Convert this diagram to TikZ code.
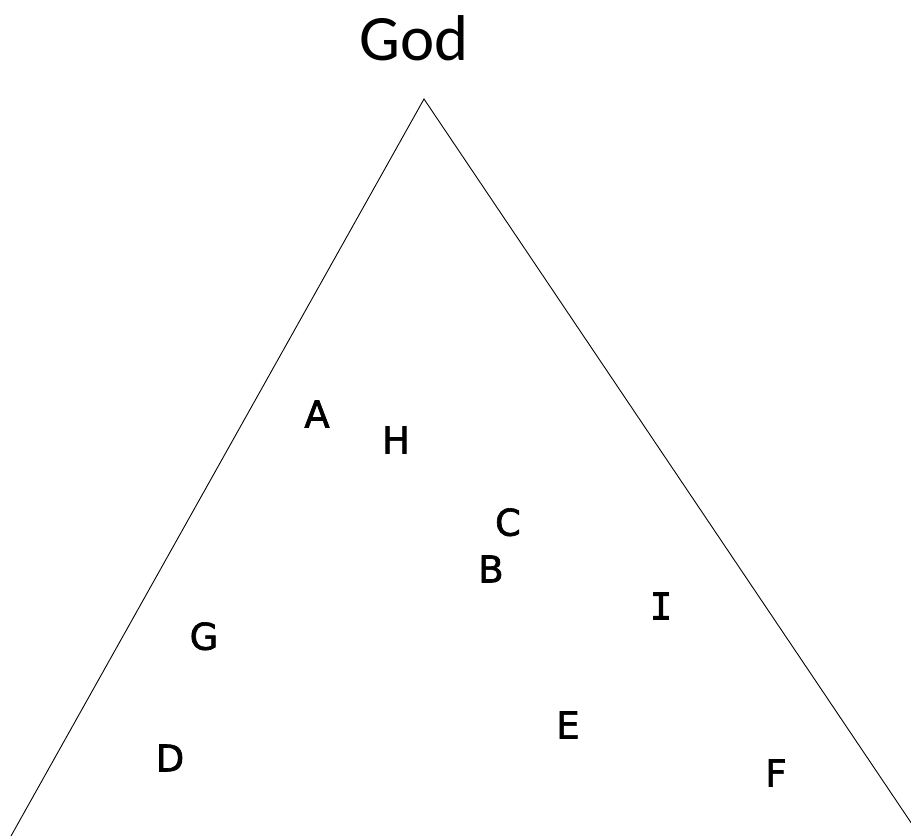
\documentclass[tikz,border=0pt]{standalone}
\usepackage{fontspec}
\setmainfont{DejaVu Sans}
\newfontfamily\godfont{Carlito}
\newfontfamily\letterfont{DejaVu Sans}[FakeBold=1.8]
\newfontfamily\monofont{DejaVu Sans Mono}[FakeBold=2.2]
\begin{document}
\begin{tikzpicture}[x=1bp,y=-1bp,
  letter/.style={font=\letterfont\fontsize{37}{40}\selectfont, inner sep=0pt, text depth=0pt, anchor=center},
  side/.style={draw=black, line width=0.9bp}]
\useasboundingbox[fill=white] (0,0) rectangle (911,837);
\clip (0,0) rectangle (911,837);
\coordinate (apex) at (424,99);
\coordinate (left) at (11,836);
\coordinate (right) at (916,830);
\draw[side] (left) -- (apex) -- (right);
\node[font=\godfont\fontsize{65}{70}\selectfont, inner sep=0pt] (god) at (414,38) {God};
\node[letter] (A) at (317,414) {A};
\node[letter] (H) at (396,440) {H};
\node[letter] (C) at (508,522) {C};
\node[letter] (B) at (491,569) {B};
\node[letter, font=\monofont\fontsize{37}{40}\selectfont] (I) at (661,606) {I};
\node[letter] (G) at (204,636) {G};
\node[letter] (D) at (170,758) {D};
\node[letter] (E) at (568,725) {E};
\node[letter] (F) at (776,773) {F};
\end{tikzpicture}
\end{document}
